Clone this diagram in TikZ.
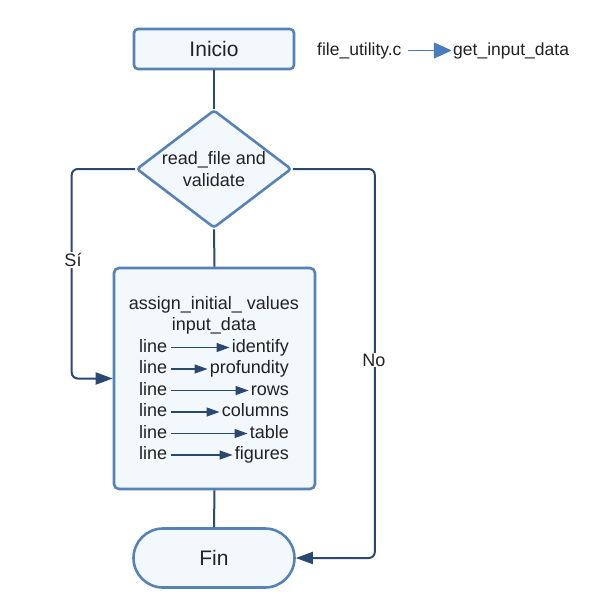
\documentclass[tikz,border=0pt]{standalone}
\usepackage{fontspec}
\setmainfont{Liberation Sans}
\usetikzlibrary{shapes.geometric,arrows.meta}
\definecolor{bord}{HTML}{5682B8}
\definecolor{conn}{HTML}{2B4870}
\definecolor{boxfill}{HTML}{F3F8FD}
\definecolor{txtc}{HTML}{222222}
\definecolor{toparr}{HTML}{4A7DBF}
\tikzset{
  box/.style={draw=bord, line width=2.6pt, fill=boxfill, text=txtc},
  conn/.style={draw=conn, line width=2pt, rounded corners=6pt},
  connarrow/.style={conn, -{Triangle[length=17pt,width=12pt]}},
  lbl/.style={fill=white, text=txtc, inner sep=1pt, font=\fontsize{18}{21.6}\selectfont},
  txt/.style={inner sep=0pt, text=txtc, text height=13pt, text depth=4pt, font=\fontsize{18}{21.6}\selectfont},
  inarrow/.style={draw=conn, line width=1.2pt, -{Triangle[length=13pt,width=9pt]}, shorten <=4pt, shorten >=2pt},
}
\begin{document}
\begin{tikzpicture}[x=1pt,y=-1pt]
\useasboundingbox (0,0) rectangle (601,616);
% main nodes
\node[box, rectangle, rounded corners=4pt, minimum width=160pt, minimum height=40pt,
  font=\fontsize{21}{25}\selectfont] (inicio) at (214,49) {Inicio};
\node[box, diamond, shape aspect=1.31, inner sep=0pt, minimum width=155pt, minimum height=118pt,
  rounded corners=3pt, align=center, font=\fontsize{18}{21.6}\selectfont] (dec) at (214,169) {read\_file and\\validate};
\node[box, rectangle, rounded corners=5pt, minimum width=201pt, minimum height=221pt] (assign) at (214.5,378.5) {};
\node[box, rectangle, rounded corners=29.5pt, minimum width=161pt, minimum height=59pt,
  font=\fontsize{21}{25}\selectfont] (fin) at (214,558) {Fin};
% connectors
\draw[conn] (inicio.south) -- (dec.north);
\draw[conn] (dec.south) -- (assign.north);
\draw[conn] (assign.south) -- (fin.north);
\draw[connarrow] (dec.west) -- ++(-63.5,0) |- (assign.west);
\draw[connarrow] (dec.east) -- ++(82,0) |- (fin.east);
\node[lbl] (si) at (73,260) {Sí};
\node[lbl] (no) at (374,360) {No};
% text inside the box
\node[txt, anchor=base] (t1) at (214,309) {assign\_initial\_ values};
\node[txt, anchor=base] (t2) at (214,330.5) {input\_data};
\foreach \i/\y/\w in {1/352/identify, 2/373.5/profundity, 3/395/rows, 4/416.5/columns, 5/438/table, 6/459.5/figures}{
  \node[txt, anchor=base west] (l\i) at (139,\y) {line};
  \node[txt, anchor=base east] (r\i) at (289,\y) {\w};
}
\draw[inarrow] (l1.east) -- (r1.west);
\draw[inarrow] (l2.east) -- (r2.west);
\draw[inarrow] (l3.east) -- (r3.west);
\draw[inarrow] (l4.east) -- (r4.west);
\draw[inarrow] (l5.east) -- (r5.west);
\draw[inarrow] (l6.east) -- (r6.west);
% top right note
\node[txt, anchor=base west, font=\fontsize{17.5}{21}\selectfont] (fu) at (317,55) {file\_utility.c};
\node[txt, anchor=base west, font=\fontsize{17.5}{21}\selectfont] (gid) at (453,55) {get\_input\_data};
\draw[draw=toparr, line width=1.2pt, -{Triangle[length=18pt,width=16pt,round]}, shorten <=6pt, shorten >=2pt] (fu.east) -- (gid.west);
\end{tikzpicture}
\end{document}
